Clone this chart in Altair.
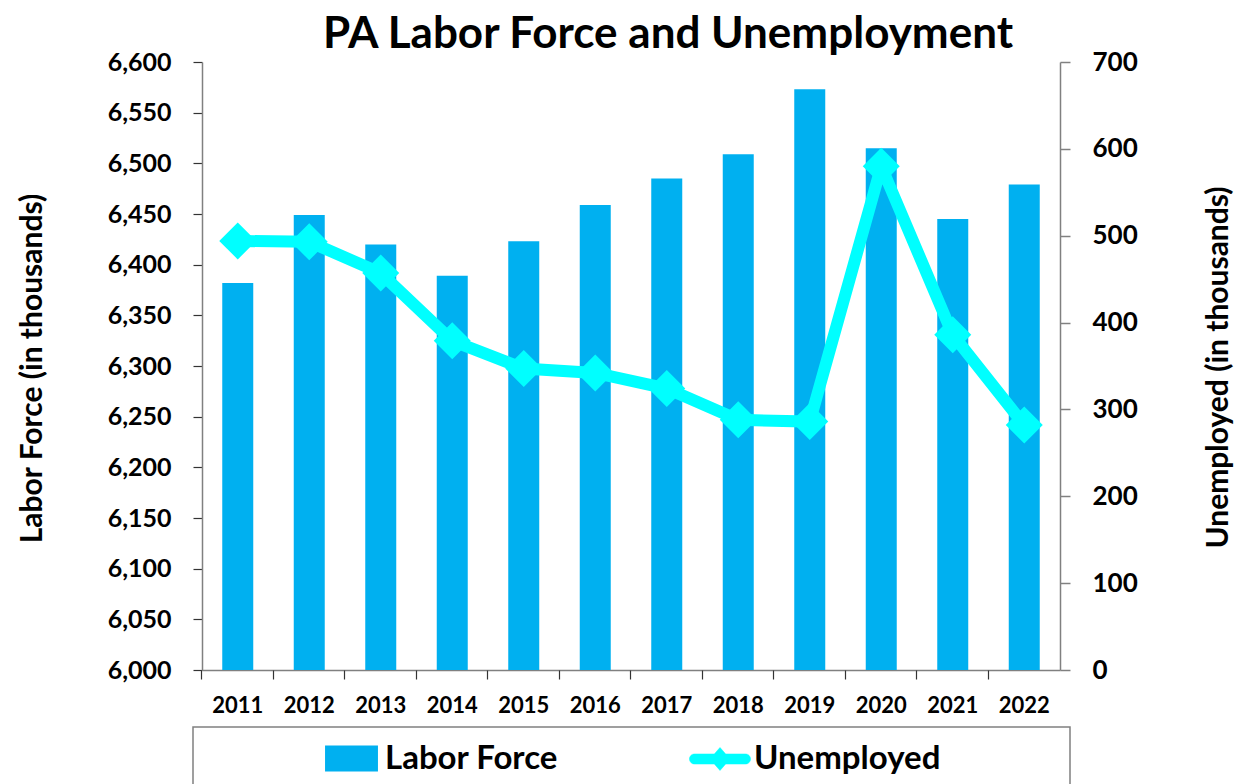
import altair as alt
import pandas as pd

years = ["2011", "2012", "2013", "2014", "2015", "2016", "2017", "2018", "2019", "2020", "2021", "2022"]
labor_force = [6382, 6449, 6420, 6389, 6423, 6459, 6485, 6509, 6573, 6515, 6445, 6479]
unemployed = [494, 493, 457, 379, 347, 342, 324, 288, 286, 580, 386, 282]
left_ticks = list(range(6000, 6601, 50))
right_ticks = list(range(0, 701, 100))

FONT = "Lato"
BAR_COLOR = "#00B0F0"
LINE_COLOR = "#00FFFF"

df = pd.DataFrame({"year": years, "labor": labor_force, "unemp": unemployed,
                   "s1": ["Labor Force"] * len(years), "s2": ["Unemployed"] * len(years)})

xscale = alt.Scale(paddingInner=0.565, paddingOuter=0.2825)

rect_path = "M-0.84,-0.41H0.84V0.41H-0.84Z"
line_path = ("M-0.81,-0.16H-0.18L0,-0.365L0.18,-0.16H0.81A0.16,0.16 0 0 1 0.81,0.16"
             "H0.18L0,0.365L-0.18,0.16H-0.81A0.16,0.16 0 0 1 -0.81,-0.16Z")

common_legend = dict(
    title=None, orient="none", legendY=665, direction="horizontal",
    symbolSize=3969, symbolOpacity=1,
    labelFont=FONT, labelFontSize=33, labelFontWeight="bold", labelColor="black",
    labelLimit=400, labelOffset=2, padding=0,
)

box = alt.Chart(pd.DataFrame({"a": [1]})).mark_rect(
    fill="white", fillOpacity=0, stroke="#808080", strokeWidth=1.5
).encode(x=alt.value(-9), x2=alt.value(868), y=alt.value(665), y2=alt.value(740))

bars = alt.Chart(df).mark_bar(size=31, clip=True).encode(
    x=alt.X("year:N", scale=xscale, sort=years, title=None,
            axis=alt.Axis(orient="bottom", labelAngle=0, ticks=False, tickSize=0,
                          labelPadding=25, labelFont=FONT, labelFontSize=22,
                          labelFontWeight="bold", labelColor="black",
                          domainColor="#808080", domainWidth=1.5)),
    y=alt.Y("labor:Q", scale=alt.Scale(domain=[6000, 6600], zero=False, nice=False),
            axis=alt.Axis(orient="left", values=left_ticks, format=",d", grid=False,
                          tickSize=9, tickColor="#333", tickWidth=1.2,
                          domainColor="#808080", domainWidth=1.5,
                          labelPadding=22, labelFont=FONT, labelFontSize=25,
                          labelFontWeight="bold", labelColor="black",
                          title="Labor Force (in thousands)", titleFont=FONT,
                          titleFontSize=30, titleFontWeight="bold", titleColor="black",
                          titleAngle=270, titleX=-170, titleY=306,
                          titleAlign="center", titleBaseline="middle")),
    color=alt.Color("s1:N", scale=alt.Scale(domain=["Labor Force"], range=[BAR_COLOR]),
                    legend=alt.Legend(legendX=118, symbolType=rect_path,
                                      symbolStrokeWidth=0, **common_legend)),
)

line = alt.Chart(df).mark_line(
    strokeWidth=12,
    point=alt.OverlayMarkDef(shape="diamond", size=1369, filled=True, color=LINE_COLOR, opacity=1),
).encode(
    x=alt.X("year:N", scale=xscale, sort=years, title=None,
            axis=alt.Axis(orient="bottom", labels=False, domain=False, ticks=True,
                          tickSize=9, tickColor="#333", tickWidth=1.2,
                          bandPosition=-0.65)),
    y=alt.Y("unemp:Q", scale=alt.Scale(domain=[0, 700], nice=False),
            axis=alt.Axis(orient="right", values=right_ticks, grid=False,
                          tickSize=10, tickColor="#808080", tickWidth=1.5,
                          domainColor="#808080", domainWidth=1.5,
                          labelPadding=22, labelFont=FONT, labelFontSize=26,
                          labelFontWeight="bold", labelColor="black",
                          title="Unemployed (in thousands)", titleFont=FONT,
                          titleFontSize=30, titleFontWeight="bold", titleColor="black",
                          titleAngle=270, titleX=158, titleY=305,
                          titleAlign="center", titleBaseline="middle")),
    color=alt.Color("s2:N", scale=alt.Scale(domain=["Unemployed"], range=[LINE_COLOR]),
                    legend=alt.Legend(legendX=486, symbolType=line_path,
                                      symbolFillColor=LINE_COLOR,
                                      symbolStrokeColor=LINE_COLOR,
                                      symbolStrokeWidth=0.5, **common_legend)),
)

chart = alt.layer(box, bars, line).resolve_scale(
    y="independent", color="independent"
).resolve_axis(
    x="independent", y="independent"
).properties(
    width=858, height=608,
    title=alt.TitleParams("PA Labor Force and Unemployment", font=FONT, fontSize=44,
                          fontWeight="bold", color="black", anchor="middle",
                          dx=37, dy=16, offset=8),
    padding={"left": 194, "top": 54, "right": 176, "bottom": 114},
    autosize=alt.AutoSizeParams(type="none"),
).configure_view(strokeWidth=0)

chart.save("out.html", embed_options={"renderer": "svg", "actions": False})
